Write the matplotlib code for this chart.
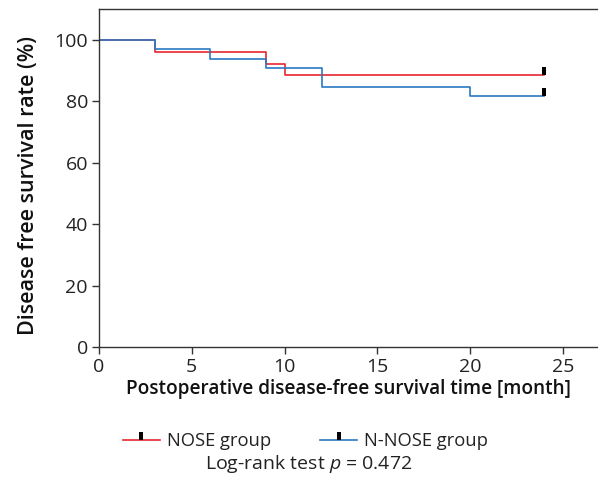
import matplotlib
matplotlib.use("Agg")
import matplotlib.pyplot as plt
from matplotlib.path import Path
from matplotlib.lines import Line2D
from matplotlib.legend_handler import HandlerTuple

plt.rcParams['font.family'] = ['Open Sans', 'DejaVu Sans']
plt.rcParams['mathtext.fontset'] = 'custom'
plt.rcParams['mathtext.it'] = 'Open Sans:italic'

nose_t = [0, 3, 9, 10, 24]
nose_s = [100, 96.2, 92.3, 88.5, 88.5]
nnose_t = [0, 3, 6, 9, 12, 20, 24]
nnose_s = [100, 97.0, 93.9, 90.9, 84.8, 81.8, 81.8]
censor_t = [24, 24]
censor_s = [88.5, 81.8]
xticks = [0, 5, 10, 15, 20, 25]
yticks = [0, 20, 40, 60, 80, 100]

red = '#e8262e'
blue = '#2a78c2'
tc = '#333333'
FS = 14

bar = Path([(-0.2, 0), (0.2, 0), (0.2, 1), (-0.2, 1), (-0.2, 0)],
           [Path.MOVETO, Path.LINETO, Path.LINETO, Path.LINETO, Path.CLOSEPOLY])

fig = plt.figure(figsize=(5.98, 4.84), dpi=100)
ax = fig.add_axes([0.1656, 0.283, 0.8344, 0.698])

ax.step(nose_t, nose_s, where='post', color=red, lw=1.2)
ax.step(nnose_t, nnose_s, where='post', color=blue, lw=1.2)
ax.plot(censor_t, censor_s, ls='none', marker=bar, ms=11.5, color='black', mew=0)

ax.set_xlim(0, 26.9)
ax.set_ylim(0, 110)
ax.set_xticks(xticks)
ax.set_yticks(yticks)
for s in ['left', 'top', 'bottom']:
    ax.spines[s].set_color(tc)
    ax.spines[s].set_linewidth(1.0)
ax.spines['right'].set_visible(False)
ax.tick_params(direction='out', length=5, width=1, color=tc, labelsize=FS,
               labelcolor='#222222', pad=3)
ax.set_xlabel('Postoperative disease-free survival time [month]', fontsize=13.7,
              fontweight='semibold', color='#111111', labelpad=2)
ax.set_ylabel('Disease free survival rate (%)', fontsize=15.5,
              fontweight='semibold', color='#111111')
ax.yaxis.set_label_coords(-0.121, 0.479)

h1 = (Line2D([], [], color=red, lw=1.2), Line2D([], [], ls='none', marker=bar, ms=11.5, color='black', mew=0))
h2 = (Line2D([], [], color=blue, lw=1.2), Line2D([], [], ls='none', marker=bar, ms=11.5, color='black', mew=0))
fig.legend([h1, h2], ['NOSE group', 'N-NOSE group'], ncol=2, frameon=False,
           loc='center', bbox_to_anchor=(0.511, 0.089), fontsize=13.2,
           handler_map={tuple: HandlerTuple(ndivide=1)}, handlelength=2.0,
           handletextpad=0.38, columnspacing=2.7, labelcolor='#222222')
fig.text(0.516, 0.041, 'Log-rank test $\\mathit{p}$ = 0.472', ha='center', va='center',
         fontsize=FS, color='#222222')

fig.savefig('out.png', dpi=100)
